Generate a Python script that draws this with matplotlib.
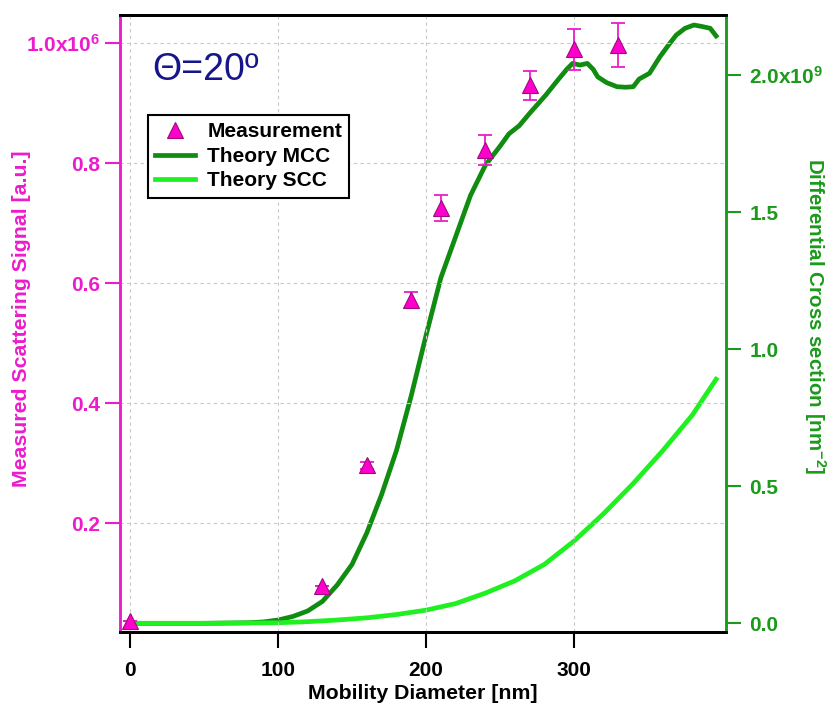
import matplotlib
matplotlib.use("Agg")
import matplotlib.pyplot as plt
from matplotlib.ticker import FixedLocator, FixedFormatter

plt.rcParams["font.family"] = ["Liberation Sans", "DejaVu Sans"]
plt.rcParams["mathtext.fontset"] = "custom"
plt.rcParams["mathtext.rm"] = "Liberation Sans:bold"
plt.rcParams["mathtext.bf"] = "Liberation Sans:bold"
plt.rcParams["mathtext.default"] = "bf"

# measurement (units of 1e6 a.u.)
meas_d = [0, 130, 160, 190, 210, 240, 270, 300, 330]
meas_sig = [0.037, 0.0955, 0.297, 0.572, 0.725, 0.822, 0.930, 0.990, 0.997]
meas_err = [0.0, 0.0, 0.006, 0.014, 0.022, 0.025, 0.024, 0.034, 0.037]

# theory MCC (units of 1e9 nm^-2)
mcc_d = [0, 50, 80, 90, 100, 110, 120, 130, 140, 150, 160, 170, 180, 190, 200,
         210, 220, 230, 240, 250, 256, 263, 270, 281, 289, 295, 299, 304, 309,
         313, 316, 322, 329, 335, 340, 344, 351, 358, 364, 369, 375, 381, 387,
         392, 396]
mcc_cs = [0.0, 0.0, 0.002, 0.005, 0.012, 0.025, 0.045, 0.08, 0.14, 0.215, 0.33,
          0.47, 0.63, 0.83, 1.05, 1.26, 1.41, 1.56, 1.67, 1.74, 1.785, 1.815,
          1.86, 1.927, 1.981, 2.02, 2.042, 2.036, 2.042, 2.02, 1.993, 1.972,
          1.957, 1.955, 1.957, 1.985, 2.006, 2.066, 2.11, 2.145, 2.17, 2.182,
          2.176, 2.17, 2.142]

# theory SCC (units of 1e9 nm^-2)
scc_d = [0, 50, 100, 120, 140, 160, 180, 200, 220, 240, 260, 280, 300, 320, 340,
         360, 380, 396]
scc_cs = [0.0, 0.0, 0.002, 0.006, 0.012, 0.02, 0.032, 0.048, 0.072, 0.11, 0.155,
          0.215, 0.30, 0.40, 0.51, 0.63, 0.76, 0.89]

x_ticks = [0, 100, 200, 300]
left_ticks = [0.2, 0.4, 0.6, 0.8, 1.0]
left_labels = ["0.2", "0.4", "0.6", "0.8", "1.0x10$^{6}$"]
right_ticks = [0.0, 0.5, 1.0, 1.5, 2.0]
right_labels = ["0.0", "0.5", "1.0", "1.5", "2.0x10$^{9}$"]

MAGENTA = "#ec1ccc"
GREEN_AX = "#1b9a1b"
MCC_COL = "#108c10"
SCC_COL = "#1ff01f"

fig = plt.figure(figsize=(8.35, 7.11), dpi=100)
ax1 = fig.add_axes([0.1437, 0.1111, 0.7258, 0.8678])
ax2 = ax1.twinx()

ax1.errorbar(meas_d, meas_sig, yerr=meas_err, fmt="none", ecolor=MAGENTA,
             elinewidth=1.3, capsize=5, capthick=1.3, zorder=3)
meas_line, = ax1.plot(meas_d, meas_sig, linestyle="none", marker="^", markersize=11,
                      markerfacecolor="#ff00cc", markeredgecolor="#a0087f",
                      markeredgewidth=0.8, zorder=4, label="Measurement")

l_mcc, = ax2.plot(mcc_d, mcc_cs, color=MCC_COL, lw=3.4, label="Theory MCC")
l_scc, = ax2.plot(scc_d, scc_cs, color=SCC_COL, lw=3.4, label="Theory SCC")

ax1.set_zorder(ax2.get_zorder() + 1)
ax1.patch.set_visible(False)

ax1.set_xlim(-6.8, 402.7)
ax1.set_ylim(0.019, 1.047)
ax2.set_ylim(-0.0317, 2.2185)

ax1.xaxis.set_major_locator(FixedLocator(x_ticks))
ax1.yaxis.set_major_locator(FixedLocator(left_ticks))
ax1.yaxis.set_major_formatter(FixedFormatter(left_labels))
ax2.yaxis.set_major_locator(FixedLocator(right_ticks))
ax2.yaxis.set_major_formatter(FixedFormatter(right_labels))

ax1.grid(True, color="#c8c8c8", linestyle=(0, (3, 3)), lw=0.8)

ax1.tick_params(axis="x", direction="out", length=11.5, width=1.5, colors="black",
                labelsize=15, pad=9.5)
ax1.tick_params(axis="y", direction="out", length=10.8, width=1.5, colors=MAGENTA,
                labelsize=15, pad=3.5)
ax2.tick_params(axis="y", direction="out", length=10.8, width=1.5, colors=GREEN_AX,
                labelsize=15, pad=6)
for lab in ax1.get_xticklabels() + ax1.get_yticklabels() + ax2.get_yticklabels():
    lab.set_fontweight("bold")

for ax in (ax1, ax2):
    ax.spines["top"].set_color("black")
    ax.spines["top"].set_linewidth(2)
    ax.spines["bottom"].set_color("black")
    ax.spines["bottom"].set_linewidth(2)
    ax.spines["left"].set_color(MAGENTA)
    ax.spines["left"].set_linewidth(1.8)
    ax.spines["right"].set_color(GREEN_AX)
    ax.spines["right"].set_linewidth(1.8)

ax1.set_xlabel("Mobility Diameter [nm]", fontsize=15.3, fontweight="bold", va="center")
ax1.xaxis.set_label_coords(0.5, -0.099)
ax1.set_ylabel("Measured Scattering Signal [a.u.]", fontsize=15.3, fontweight="bold",
               color=MAGENTA, va="center")
ax1.yaxis.set_label_coords(-0.162, 0.508)
ax2.set_ylabel("Differential Cross section [nm$^{-2}$]", fontsize=14.8,
               fontweight="bold", color=GREEN_AX, rotation=270, va="center")
ax2.yaxis.set_label_coords(1.147, 0.512)

ax1.text(0.054, 0.911, "\u0398=20\u00ba", transform=ax1.transAxes, fontsize=27,
         color="#16168a", ha="left", va="center")

handles = [meas_line, l_mcc, l_scc]
leg = ax1.legend(handles, [h.get_label() for h in handles], loc="upper left",
                 bbox_to_anchor=(0.046, 0.838), borderaxespad=0, fancybox=False,
                 edgecolor="black", framealpha=1, handlelength=1.9,
                 handletextpad=0.6, borderpad=0.35, labelspacing=0.27,
                 prop={"weight": "bold", "size": 15})
leg.get_frame().set_linewidth(1.5)

fig.savefig("out.png", dpi=100)
